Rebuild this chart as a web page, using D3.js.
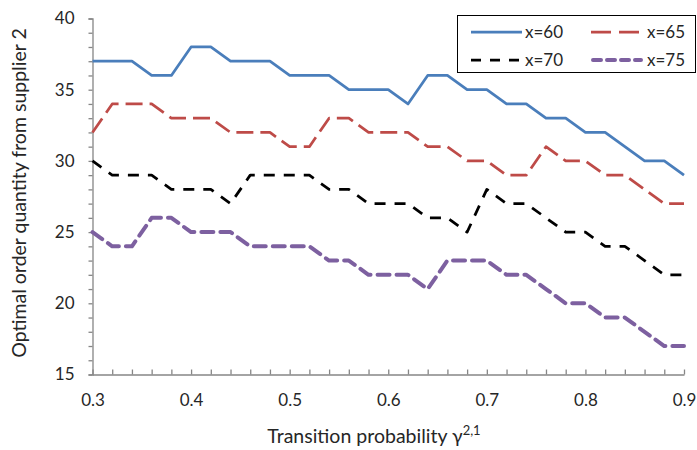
<!DOCTYPE html>
<html><head><meta charset="utf-8">
<script src="https://cdn.jsdelivr.net/npm/d3@7"></script>
<style>body{margin:0;background:#fff}svg{display:block}text{font-family:Lato,"Open Sans",sans-serif;fill:#262626}</style>
</head><body><svg id="c" width="697" height="450"></svg>
<script>
const probs = d3.range(31).map(i => +(0.30 + i*0.02).toFixed(2));
const x60 = [37,37,37,36,36,38,38,37,37,37,36,36,36,35,35,35,34,36,36,35,35,34,34,33,33,32,32,31,30,30,29];
const x65 = [32,34,34,34,33,33,33,32,32,32,31,31,33,33,32,32,32,31,31,30,30,29,29,31,30,30,29,29,28,27,27];
const x70 = [30,29,29,29,28,28,28,27,29,29,29,29,28,28,27,27,27,26,26,25,28,27,27,26,25,25,24,24,23,22,22];
const x75 = [25,24,24,26,26,25,25,25,24,24,24,24,23,23,22,22,22,21,23,23,23,22,22,21,20,20,19,19,18,17,17];
const seriesNames = ["x=60","x=65","x=70","x=75"];
const xTicks = [0.3,0.4,0.5,0.6,0.7,0.8,0.9];
const yTicks = [15,20,25,30,35,40];

const styles = [
  {color:"#4a7ebb", width:2.75, dash:null, cap:"butt"},
  {color:"#be4b48", width:2.75, dash:"17,7", cap:"butt"},
  {color:"#000000", width:2.75, dash:"11,9", cap:"butt"},
  {color:"#7d60a0", width:4, dash:"12,7", cap:"round"}
];
const legendDash = [null,"20,8","10,9","8,6"];
const data = [x60,x65,x70,x75];

const svg = d3.select("#c");
const L=92.5, R=684, T=18.5, B=374.5;
const x = d3.scaleLinear().domain([0.3,0.9]).range([L,R]);
const y = d3.scaleLinear().domain([15,40]).range([B,T]);
const axisColor="#868686";

// y axis
const ya = svg.append("g").attr("transform",`translate(${L},0)`)
  .call(d3.axisLeft(y).tickValues(d3.range(15,41,1)).tickSize(4).tickFormat(d=> yTicks.includes(d)? d : ""));
ya.select(".domain").attr("stroke",axisColor).attr("stroke-width",1.3);
ya.selectAll(".tick line").attr("stroke",axisColor).attr("stroke-width",1.3);
ya.selectAll(".tick text").attr("font-size",17).attr("x",-18).attr("fill","#262626").attr("font-family","Lato");

// x axis
const xa = svg.append("g").attr("transform",`translate(0,${B})`)
  .call(d3.axisBottom(x).tickValues(probs).tickSize(-5).tickSizeOuter(0).tickFormat(d=> xTicks.some(t=>Math.abs(t-d)<1e-9)? d.toFixed(1):""));
xa.select(".domain").attr("stroke",axisColor).attr("stroke-width",1.3);
xa.selectAll(".tick line").attr("stroke",axisColor).attr("stroke-width",1.3);
xa.selectAll(".tick text").attr("font-size",17).attr("y",19).attr("fill","#262626").attr("font-family","Lato");

// lines
const line = d3.line().x((d,i)=>x(probs[i])).y(d=>y(d));
data.forEach((vals,k)=>{
  const s=styles[k];
  svg.append("path").datum(vals).attr("d",line).attr("fill","none")
    .attr("stroke",s.color).attr("stroke-width",s.width)
    .attr("stroke-dasharray",s.dash).attr("stroke-linecap",s.cap).attr("stroke-linejoin","round");
});

// legend
const lg = svg.append("g");
lg.append("rect").attr("x",457.5).attr("y",15.5).attr("width",238).attr("height",57)
  .attr("fill","#fff").attr("stroke","#000").attr("stroke-width",1);
const pos=[[471,32],[591,32],[471,60],[593,60]];
seriesNames.forEach((n,k)=>{
  const s=styles[k]; const [px,py]=pos[k];
  lg.append("line").attr("x1",px).attr("x2",k===3?px+48:px+51).attr("y1",py).attr("y2",py)
    .attr("stroke",s.color).attr("stroke-width",s.width).attr("stroke-dasharray",legendDash[k]).attr("stroke-linecap",s.cap);
  lg.append("text").attr("x",k%2?647:525).attr("y",py+6).attr("font-size",17).text(n);
});

// titles
svg.append("text").attr("transform","translate(26,193) rotate(-90)").attr("text-anchor","middle")
  .attr("font-size",19.5).text("Optimal order quantity from supplier 2");
const xt = svg.append("text").attr("x",374).attr("y",443).attr("text-anchor","middle").attr("font-size",19.5);
xt.append("tspan").text("Transition probability γ");
xt.append("tspan").attr("dy",-8).attr("font-size",13).text("2,1");
</script></body></html>
